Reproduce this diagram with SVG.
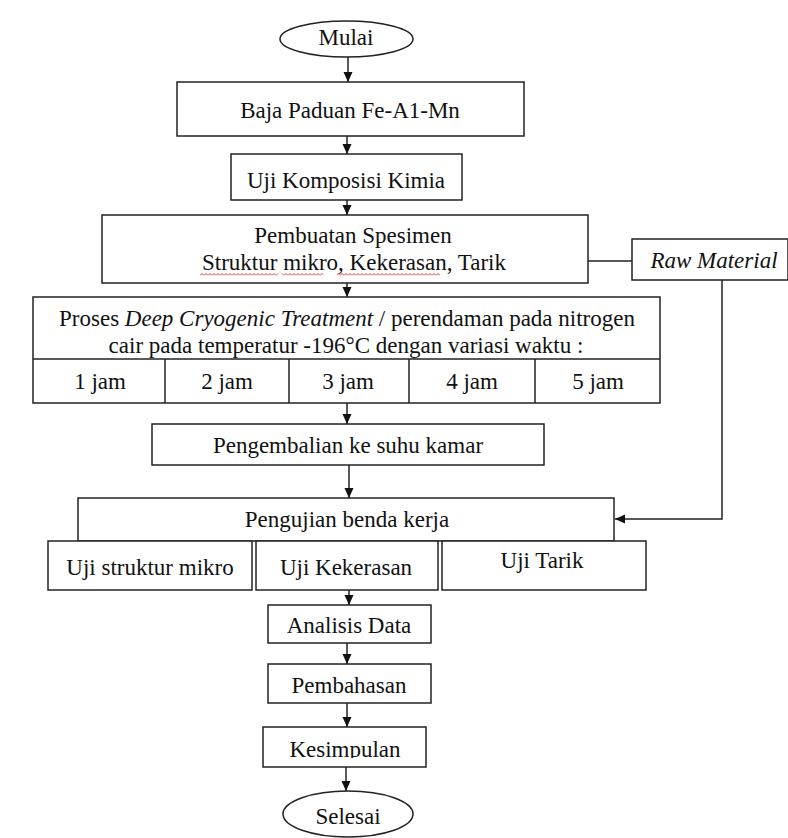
<svg xmlns="http://www.w3.org/2000/svg" width="788" height="838" viewBox="0 0 788 838">
<style>
.b{fill:#fff;stroke:#222;stroke-width:1.5}
.t{font-family:'Liberation Serif','DejaVu Serif','Noto Serif',serif;font-size:23px;fill:#111;text-anchor:middle}
.c{fill:none;stroke:#222;stroke-width:1.5}
</style>
<defs>
<marker id="ah" markerUnits="userSpaceOnUse" markerWidth="11" markerHeight="10" refX="10" refY="4.5" orient="auto">
<path d="M0,0 L10,4.5 L0,9 z" fill="#111"/>
</marker>
<pattern id="sq" width="4" height="3" patternUnits="userSpaceOnUse">
<path d="M0,2.5 L2,0.5 L4,2.5" fill="none" stroke="#d22" stroke-width="0.9"/>
</pattern>
<clipPath id="kclip"><rect x="263" y="727" width="163" height="31"/></clipPath>
</defs>
<rect width="788" height="838" fill="#fff"/>

<g id="connectors">
<line class="c" x1="348" y1="57" x2="348" y2="82" marker-end="url(#ah)"/>
<line class="c" x1="347" y1="136" x2="347" y2="154" marker-end="url(#ah)"/>
<line class="c" x1="347" y1="200" x2="347" y2="215" marker-end="url(#ah)"/>
<line class="c" x1="347" y1="283" x2="347" y2="297" marker-end="url(#ah)"/>
<line class="c" x1="347" y1="403" x2="347" y2="424" marker-end="url(#ah)"/>
<line class="c" x1="349" y1="465" x2="349" y2="498" marker-end="url(#ah)"/>
<line class="c" x1="588" y1="261" x2="632" y2="261"/>
<polyline class="c" points="722,280 722,519 615,519" marker-end="url(#ah)"/>
<line class="c" x1="349" y1="590" x2="349" y2="605" marker-end="url(#ah)"/>
<line class="c" x1="347" y1="643" x2="347" y2="664" marker-end="url(#ah)"/>
<line class="c" x1="347" y1="703" x2="347" y2="727" marker-end="url(#ah)"/>
<line class="c" x1="346" y1="767" x2="346" y2="791" marker-end="url(#ah)"/>
</g>

<g id="mulai">
<ellipse class="b" cx="346.5" cy="39" rx="66.5" ry="18"/>
<text class="t" x="346" y="45">Mulai</text>
</g>

<g id="baja">
<rect class="b" x="177" y="82" width="347" height="54"/>
<text class="t" x="350" y="118">Baja Paduan Fe-A1-Mn</text>
</g>

<g id="komposisi">
<rect class="b" x="231" y="154" width="231" height="46"/>
<text class="t" x="346" y="188">Uji Komposisi Kimia</text>
</g>

<g id="pembuatan">
<rect class="b" x="102" y="215" width="486" height="68"/>
<text class="t" x="353" y="243">Pembuatan Spesimen</text>
<text class="t" x="354" y="270">Struktur mikro, Kekerasan, Tarik</text>
<rect x="200" y="273" width="78" height="3" fill="url(#sq)"/>
<rect x="282" y="273" width="41" height="3" fill="url(#sq)"/>
<rect x="337" y="273" width="103" height="3" fill="url(#sq)"/>
</g>

<g id="raw">
<rect class="b" x="632" y="239" width="156" height="41"/>
<text class="t" x="714" y="268" font-style="italic">Raw Material</text>
</g>

<g id="proses">
<rect class="b" x="33" y="297" width="627" height="106"/>
<line class="c" x1="33" y1="359" x2="660" y2="359"/>
<line class="c" x1="165" y1="359" x2="165" y2="403"/>
<line class="c" x1="289" y1="359" x2="289" y2="403"/>
<line class="c" x1="409" y1="359" x2="409" y2="403"/>
<line class="c" x1="535" y1="359" x2="535" y2="403"/>
<text class="t" x="347" y="326">Proses <tspan font-style="italic">Deep Cryogenic Treatment</tspan> / perendaman pada nitrogen</text>
<text class="t" x="346" y="353">cair pada temperatur -196°C dengan variasi waktu :</text>
<text class="t" x="100" y="389">1 jam</text>
<text class="t" x="227" y="389">2 jam</text>
<text class="t" x="348" y="389">3 jam</text>
<text class="t" x="472" y="389">4 jam</text>
<text class="t" x="598" y="389">5 jam</text>
</g>

<g id="pengembalian">
<rect class="b" x="152" y="424" width="392" height="41"/>
<text class="t" x="348" y="453">Pengembalian ke suhu kamar</text>
</g>

<g id="pengujian">
<rect class="b" x="78" y="498" width="536" height="43"/>
<text class="t" x="347" y="527">Pengujian benda kerja</text>
</g>

<g id="uji-mikro">
<rect class="b" x="48" y="541" width="204" height="49"/>
<text class="t" x="150" y="575">Uji struktur mikro</text>
</g>

<g id="uji-kekerasan">
<rect class="b" x="256" y="541" width="182" height="49"/>
<text class="t" x="346" y="575">Uji Kekerasan</text>
</g>

<g id="uji-tarik">
<rect class="b" x="442" y="541" width="204" height="49"/>
<text class="t" x="542" y="568">Uji Tarik</text>
</g>

<g id="analisis">
<rect class="b" x="268" y="605" width="163" height="38"/>
<text class="t" x="349" y="633">Analisis Data</text>
</g>

<g id="pembahasan">
<rect class="b" x="268" y="664" width="163" height="39"/>
<text class="t" x="349" y="693">Pembahasan</text>
</g>

<g id="kesimpulan">
<rect class="b" x="263" y="727" width="163" height="40"/>
<text class="t" x="345" y="757" clip-path="url(#kclip)">Kesimpulan</text>
</g>

<g id="selesai">
<ellipse class="b" cx="348" cy="814" rx="65" ry="23"/>
<text class="t" x="348" y="824">Selesai</text>
</g>
</svg>
